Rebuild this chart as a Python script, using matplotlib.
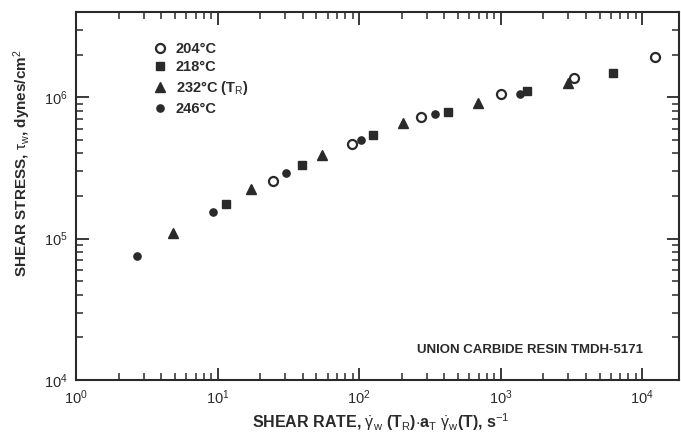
import matplotlib
matplotlib.use("Agg")
import matplotlib.pyplot as plt
from matplotlib.ticker import LogLocator, NullFormatter, FixedLocator

# shifted shear rate (1/s) and shear stress (dyn/cm^2)
rate_204 = [24.7, 89, 274, 1010, 3300, 12400]
stress_204 = [2.55e5, 4.65e5, 7.2e5, 1.05e6, 1.36e6, 1.92e6]

rate_218 = [11.5, 39.6, 126, 426, 1540, 6240]
stress_218 = [1.75e5, 3.31e5, 5.4e5, 7.8e5, 1.10e6, 1.48e6]

rate_232 = [4.85, 17.3, 54.8, 205, 693, 3000]
stress_232 = [1.09e5, 2.24e5, 3.89e5, 6.55e5, 9.07e5, 1.26e6]

rate_246 = [2.7, 9.3, 30.5, 103, 344, 1373]
stress_246 = [7.5e4, 1.54e5, 2.9e5, 4.97e5, 7.6e5, 1.05e6]

labels = ["204°C", "218°C", "232°C (T$_R$)", "246°C"]
xticks = [1e0, 1e1, 1e2, 1e3, 1e4]
yticks = [1e4, 1e5, 1e6]

INK = "#2a2a2a"
FONT = ["Liberation Sans", "DejaVu Sans"]
plt.rcParams["font.family"] = FONT
plt.rcParams["mathtext.fontset"] = "custom"
plt.rcParams["mathtext.rm"] = "Liberation Sans"
plt.rcParams["mathtext.it"] = "Liberation Sans"
plt.rcParams["mathtext.bf"] = "Liberation Sans:bold"

fig = plt.figure(figsize=(6.81, 4.34), dpi=100)
ax = fig.add_axes([76 / 681, 54 / 434, 603 / 681, 368 / 434])

ax.plot(rate_204, stress_204, "o", ms=6.5, mfc="white", mec=INK, mew=1.6, ls="none", label=labels[0])
ax.plot(rate_218, stress_218, "s", ms=5.8, color=INK, ls="none", label=labels[1])
ax.plot(rate_232, stress_232, "^", ms=6.5, color=INK, ls="none", label=labels[2])
ax.plot(rate_246, stress_246, "o", ms=5.2, color=INK, ls="none", label=labels[3])

ax.set_xscale("log")
ax.set_yscale("log")
ax.set_xlim(1, 1.82e4)
ax.set_ylim(1e4, 4e6)

ax.xaxis.set_major_locator(FixedLocator(xticks))
ax.yaxis.set_major_locator(FixedLocator(yticks))
ax.xaxis.set_minor_locator(LogLocator(base=10, subs=range(2, 10), numticks=20))
ax.yaxis.set_minor_locator(LogLocator(base=10, subs=range(2, 10), numticks=20))
ax.xaxis.set_minor_formatter(NullFormatter())
ax.yaxis.set_minor_formatter(NullFormatter())
ax.set_xticklabels([f"$10^{{{i}}}$" for i in range(len(xticks))])
ax.set_yticklabels([f"$10^{{{i}}}$" for i in (4, 5, 6)])

ax.tick_params(which="both", direction="in", top=True, right=True, color=INK,
               labelcolor=INK, labelsize=10.5)
ax.tick_params(which="major", length=9, width=1.3, pad=6)
ax.tick_params(which="minor", length=5, width=1.1)
for s in ax.spines.values():
    s.set_color(INK)
    s.set_linewidth(1.5)

leg = ax.legend(loc="upper left", bbox_to_anchor=(0.105, 0.955), frameon=False,
                numpoints=1, handlelength=1.0, handletextpad=0.6, labelspacing=0.33,
                prop={"size": 10.5, "weight": "bold", "family": FONT})
for t in leg.get_texts():
    t.set_color(INK)

ax.text(0.94, 0.082, "UNION CARBIDE RESIN TMDH-5171", transform=ax.transAxes,
        ha="right", va="center", fontsize=9.5, fontweight="bold", color=INK)

fig.text(22 / 681, 1 - 163 / 434, r"SHEAR STRESS, $\tau_w$, dynes/cm$^2$", rotation=90,
         ha="center", va="center", fontsize=11, fontweight="bold", color=INK)
fig.text(381 / 681, 1 - 422 / 434,
         r"SHEAR RATE, $\dot{\gamma}_w$ (T$_R$)$\cdot$a$_T$ $\dot{\gamma}_w$(T), s$^{-1}$",
         ha="center", va="center", fontsize=11.5, fontweight="bold", color=INK)

fig.savefig("out.png", dpi=100)
